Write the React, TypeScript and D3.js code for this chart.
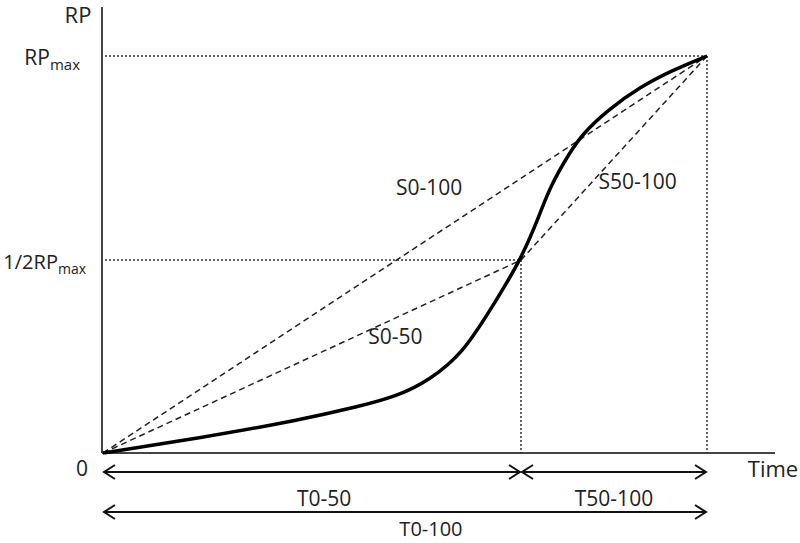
import * as d3 from 'd3';
import React from 'react';

// curve: time as a share of T100, RP as a share of RPmax
const curveTime = [0, 0.161, 0.326, 0.426, 0.487, 0.541, 0.596, 0.641, 0.692, 0.724, 0.74, 0.773, 0.795, 0.834, 0.889, 0.944, 1];
const curveRP = [0, 0.038, 0.083, 0.118, 0.143, 0.184, 0.252, 0.36, 0.486, 0.604, 0.67, 0.758, 0.805, 0.862, 0.922, 0.965, 1];

const tHalf = 0.692;
const rpHalf = 0.486;

const secants = [
  { name: 'S0-100', from: [0, 0], to: [1, 1], lx: 0.54, ly: 0.67 },
  { name: 'S0-50', from: [0, 0], to: [tHalf, rpHalf], lx: 0.484, ly: 0.295 },
  { name: 'S50-100', from: [tHalf, rpHalf], to: [1, 1], lx: 0.885, ly: 0.685 },
];

const spans = [
  { name: 'T0-50', from: 0, to: tHalf, row: 0, label: 0.366 },
  { name: 'T50-100', from: tHalf, to: 1, row: 0, label: 0.846 },
  { name: 'T0-100', from: 0, to: 1, row: 1, label: 0.543 },
];

const width = 800;
const height = 543;
const font = "'Open Sans', 'DejaVu Sans', sans-serif";
const ink = '#222';

const App = () => {
  const x = d3.scaleLinear([0, 1], [103, 707]);
  const y = d3.scaleLinear([0, 1], [453, 56]);
  const x0 = x(0) - 1;
  const y0 = y(0);

  const line = d3
    .line<number>()
    .x((d) => x(curveTime[d]))
    .y((d) => y(curveRP[d]))
    .curve(d3.curveBasis);

  const rowY = [472, 512];
  const labelY = [498, 528];

  // open chevron head at (px, py), pointing dir (-1 left, 1 right)
  const head = (px: number, py: number, dir: number) =>
    `M${px - dir * 11},${py - 7}L${px},${py}L${px - dir * 11},${py + 7}`;

  return (
    <svg width={width} height={height} style={{ position: 'absolute', left: 0, top: 0 }}>
      <rect width={width} height={height} fill="#fff" />
      {/* axes */}
      <line x1={x0} x2={x0} y1={7} y2={y0} stroke="#444" strokeWidth={2} />
      <line x1={x0} x2={775} y1={y0} y2={y0} stroke="#444" strokeWidth={2} />

      {/* dotted guides */}
      <g stroke="#333" strokeWidth={1.5} strokeDasharray="2,2" fill="none">
        <line x1={x0 + 3} x2={x(1)} y1={y(1)} y2={y(1)} />
        <line x1={x0 + 3} x2={x(tHalf)} y1={y(rpHalf)} y2={y(rpHalf)} />
        <line x1={x(1)} x2={x(1)} y1={y(1)} y2={y0} />
        <line x1={x(tHalf)} x2={x(tHalf)} y1={y(rpHalf)} y2={y0} />
      </g>

      {/* secants */}
      <g stroke="#222" strokeWidth={1.5} strokeDasharray="6,4" fill="none">
        {secants.map((s) => (
          <line key={s.name} x1={x(s.from[0])} y1={y(s.from[1])} x2={x(s.to[0])} y2={y(s.to[1])} />
        ))}
      </g>

      <path d={line(d3.range(curveTime.length)) || ''} fill="none" stroke="#000" strokeWidth={3.5} />

      {/* time spans */}
      <g stroke="#111" strokeWidth={2} fill="none">
        {spans.map((s) => {
          const yy = rowY[s.row];
          return (
            <g key={s.name}>
              <line x1={x(s.from) + 1} x2={x(s.to) - 1} y1={yy} y2={yy} />
              <path d={head(x(s.from) + 1, yy, -1)} />
              <path d={head(x(s.to) - 1, yy, 1)} />
            </g>
          );
        })}
      </g>

      <g fontFamily={font} fontSize={21} fill={ink}>
        {secants.map((s) => (
          <text key={s.name} x={x(s.lx)} y={y(s.ly)} textAnchor="middle" dominantBaseline="central">
            {s.name}
          </text>
        ))}
        {spans.map((s) => (
          <text
            key={s.name}
            x={x(s.label)}
            y={labelY[s.row]}
            fontSize={s.row === 1 ? 20 : 21}
            textAnchor="middle"
            dominantBaseline="central"
          >
            {s.name}
          </text>
        ))}
        <text x={773} y={468} fontSize={22} textAnchor="middle" dominantBaseline="central">Time</text>
        <text x={82} y={468} textAnchor="middle" dominantBaseline="central">0</text>
        <text x={78} y={14} fontSize={22} textAnchor="middle" dominantBaseline="central">RP</text>
        <text x={80} y={y(1) + 1} textAnchor="end" dominantBaseline="central">
          RP<tspan fontSize={15} dy={7}>max</tspan>
        </text>
        <text x={86} y={y(rpHalf) + 1} fontSize={20} textAnchor="end" dominantBaseline="central">
          1/2RP<tspan fontSize={14} dy={7}>max</tspan>
        </text>
      </g>
    </svg>
  );
};

export default App;
